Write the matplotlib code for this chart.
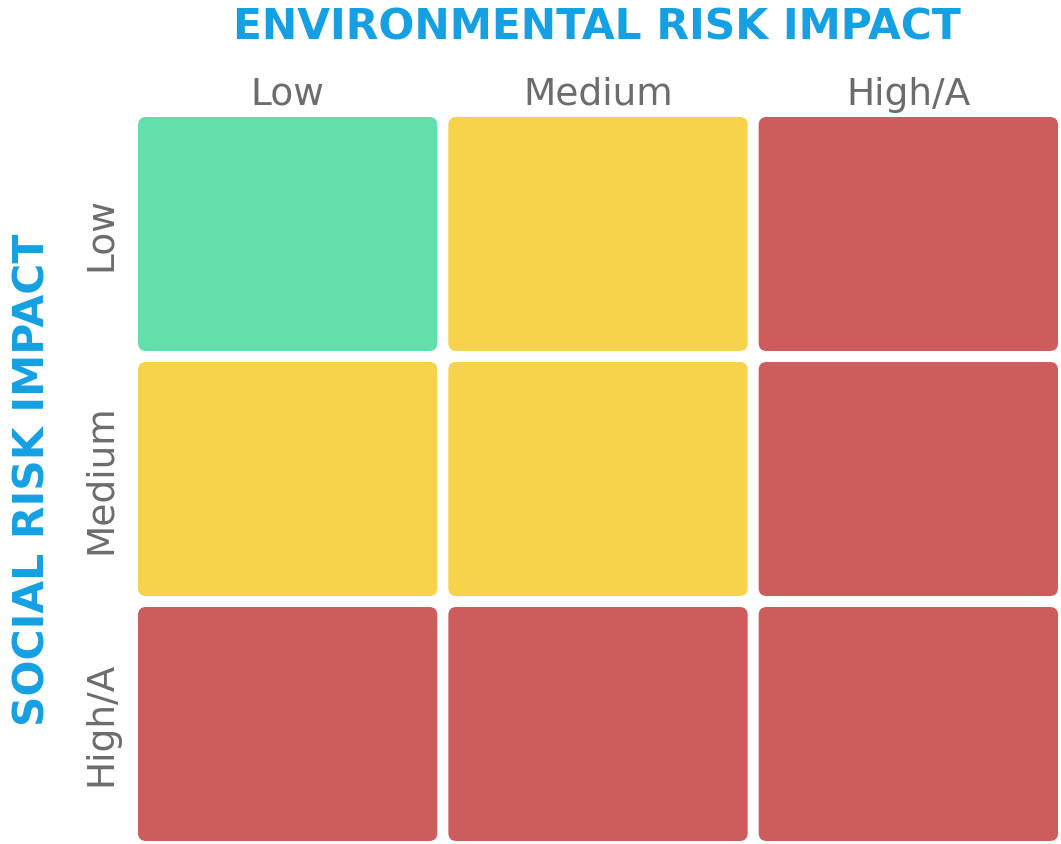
import matplotlib
matplotlib.use("Agg")
import matplotlib.pyplot as plt
from matplotlib.patches import FancyBboxPatch

# ===Data=== #
ENV_LEVELS = ["Low", "Medium", "High/A"]      # columns (environmental risk impact)
SOCIAL_LEVELS = ["Low", "Medium", "High/A"]   # rows (social risk impact)
# risk grade of each cell: 0 = low, 1 = medium, 2 = high
RISK_GRADE = [
    [0, 1, 2],
    [1, 1, 2],
    [2, 2, 2],
]
GRADE_COLORS = ["#63DFAC", "#F7D24B", "#CD5D5C"]

TITLE_TOP = "ENVIRONMENTAL RISK IMPACT"
TITLE_LEFT = "SOCIAL RISK IMPACT"
BLUE = "#14A0E2"
GRAY = "#6c6c6c"

plt.rcParams['font.family'] = ['DejaVu Sans']

W, H = 1061, 844
fig = plt.figure(figsize=(W / 100, H / 100), dpi=100)

# grid area in pixels (with half a gap on each side)
left_px, right_px = 132.5, 1063.5
top_px, bot_px = 111.5, 846.5
ax = fig.add_axes([left_px / W, 1 - bot_px / H, (right_px - left_px) / W, (bot_px - top_px) / H])
ax.set_xlim(0, len(ENV_LEVELS))
ax.set_ylim(len(SOCIAL_LEVELS), 0)
ax.axis('off')

px_x = (right_px - left_px) / len(ENV_LEVELS)   # pixels per data unit
px_y = (bot_px - top_px) / len(SOCIAL_LEVELS)
gap = 11
radius = 8

for r, row in enumerate(RISK_GRADE):
    for c, grade in enumerate(row):
        gx = gap / px_x
        gy = gap / px_y
        box = FancyBboxPatch(
            (c + gx / 2, r + gy / 2), 1 - gx, 1 - gy,
            boxstyle=f"round,pad=0,rounding_size={radius / px_x}",
            mutation_aspect=px_x / px_y,
            facecolor=GRADE_COLORS[grade], edgecolor='none', clip_on=False)
        ax.add_patch(box)

# column labels, baseline just above the grid
for c, name in enumerate(ENV_LEVELS):
    ax.text(c + 0.5, -(top_px - 104.5) / px_y, name, ha='center', va='baseline',
            fontsize=27, color=GRAY, clip_on=False)

# row labels, rotated; baseline sits on the right
for r, name in enumerate(SOCIAL_LEVELS):
    ax.text(-(left_px - 111) / px_x, r + 0.5, name, ha='center', va='baseline',
            rotation=90, rotation_mode='anchor', fontsize=27, color=GRAY, clip_on=False)

fig.text(597 / W, 1 - 40 / H, TITLE_TOP, ha='center', va='baseline',
         fontsize=30.5, fontweight='bold', color=BLUE)
fig.text(45 / W, 1 - 480 / H, TITLE_LEFT, ha='center', va='baseline', rotation=90,
         rotation_mode='anchor', fontsize=30.5, fontweight='bold', color=BLUE)

fig.savefig("out.png", dpi=100, facecolor='white')
